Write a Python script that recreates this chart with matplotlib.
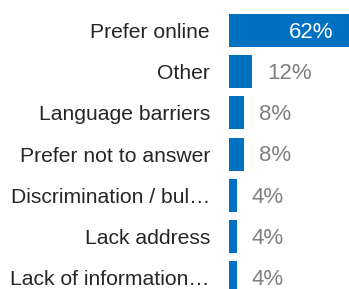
import matplotlib
matplotlib.use("Agg")
import matplotlib.pyplot as plt

# reasons, top to bottom
categories = ["Prefer online", "Other", "Language barriers", "Prefer not to answer",
              "Discrimination / bul\u2026", "Lack address", "Lack of information\u2026"]
values = [62, 12, 8, 8, 4, 4, 4]
value_labels = ["62%", "12%", "8%", "8%", "4%", "4%", "4%"]

BLUE = "#0070C0"
GREY = "#808080"
TEXT = "#262626"

plt.rcParams["font.family"] = ["Liberation Sans", "DejaVu Sans"]

W, H = 349, 289
fig = plt.figure(figsize=(W / 100, H / 100), dpi=100)
# axes spans from the bar baseline to the right edge, full height
ax = fig.add_axes([229 / W, 0, 120 / W, 1])

pos = list(range(len(categories)))
ax.barh(pos, values, height=0.8, color=BLUE)
ax.set_xlim(0, 62)
ax.set_ylim(6.27, -0.74)

ax.set_yticks(pos)
ax.set_yticklabels(categories, fontsize=15.2, color=TEXT)
ax.tick_params(axis="y", length=0, pad=13.7)
ax.set_xticks([])
for s in ax.spines.values():
    s.set_visible(False)

for i, (v, lab) in enumerate(zip(values, value_labels)):
    if i == 0:
        ax.annotate(lab, (v, i), xytext=(-11.5, -1.2), textcoords="offset points",
                    ha="right", va="center", fontsize=16, color="white")
    else:
        ax.annotate(lab, (v, i), xytext=(10.5, -1.2), textcoords="offset points",
                    ha="left", va="center", fontsize=16, color=GREY,
                    annotation_clip=False)

fig.savefig("out.png", dpi=100)
